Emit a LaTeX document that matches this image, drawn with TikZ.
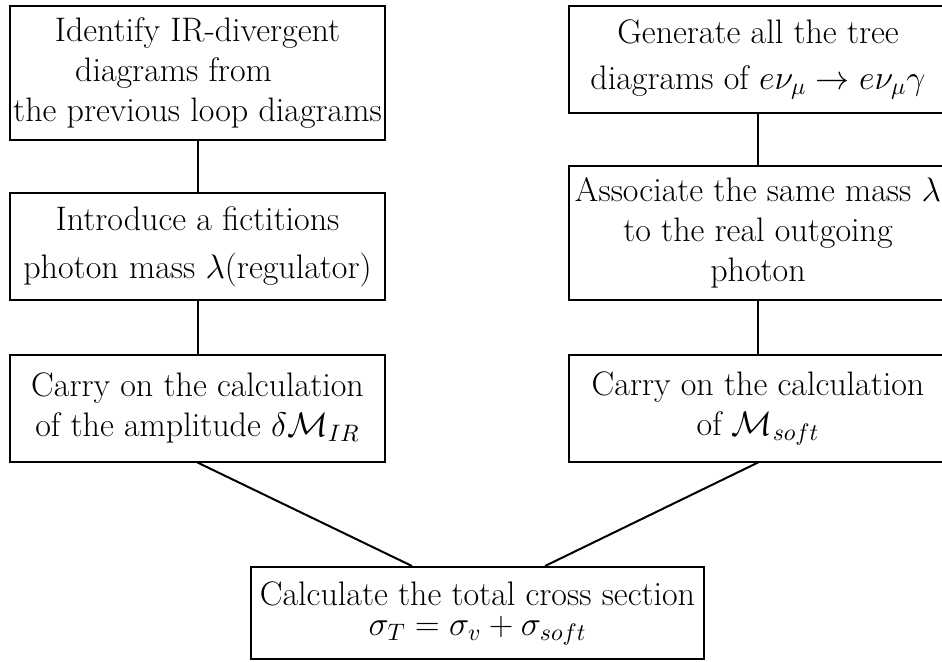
\documentclass[tikz,border=0pt]{standalone}
\usepackage{fix-cm}
\usepackage{amsmath}
\usepackage{tikz}

\tikzset{
  box/.style={draw, line width=1pt, align=center, inner sep=0pt,
              minimum width=187.5pt, font=\fontsize{17}{20}\selectfont},
  rbox/.style={box, minimum width=189pt},
  link/.style={line width=1pt}
}

\begin{document}
\begin{tikzpicture}[x=0.5pt, y=-0.5pt]
  \useasboundingbox (0,0) rectangle (942,661);
  \clip (0,0) rectangle (942,661);
  % left column (virtual)
  \node[box, minimum height=67pt]   (ident)  at (197.5,73)    {Identify IR-divergent\\diagrams from\hspace*{24pt}\mbox{}\\the previous loop diagrams};
  \node[box, minimum height=53.5pt] (intro)  at (197.5,246.5) {Introduce a fictitions\\[4pt]photon mass $\lambda$(regulator)};
  \node[box, minimum height=53.5pt] (carryL) at (197.5,408)   {Carry on the calculation\\of the amplitude $\delta\mathcal{M}_{IR}$};
  % right column (real)
  \node[rbox, minimum height=53.5pt] (gen)    at (758,59.5)    {Generate all the tree\\[3pt]diagrams of $e\nu_\mu \to e\nu_\mu\gamma$};
  \node[rbox, minimum height=67pt]   (assoc)  at (758,233)     {Associate the same mass $\lambda$\\to the real outgoing\\photon};
  \node[rbox, minimum height=53.5pt] (carryR) at (758,408)     {Carry on the calculation\\of $\mathcal{M}_{soft}$};
  % result
  \node[box, minimum width=226.5pt, minimum height=46pt,
        font=\fontsize{17}{15}\selectfont] (total) at (477.5,613)
        {Calculate the total cross section\\$\sigma_T = \sigma_v + \sigma_{soft}$};
  % connectors
  \draw[link] (ident) -- (intro);
  \draw[link] (intro) -- (carryL);
  \draw[link] (gen) -- (assoc);
  \draw[link] (assoc) -- (carryR);
  \draw[link] (carryL.south) -- ([xshift=-32.75pt]total.north);
  \draw[link] (carryR.south) -- ([xshift=33.75pt]total.north);
\end{tikzpicture}
\end{document}
